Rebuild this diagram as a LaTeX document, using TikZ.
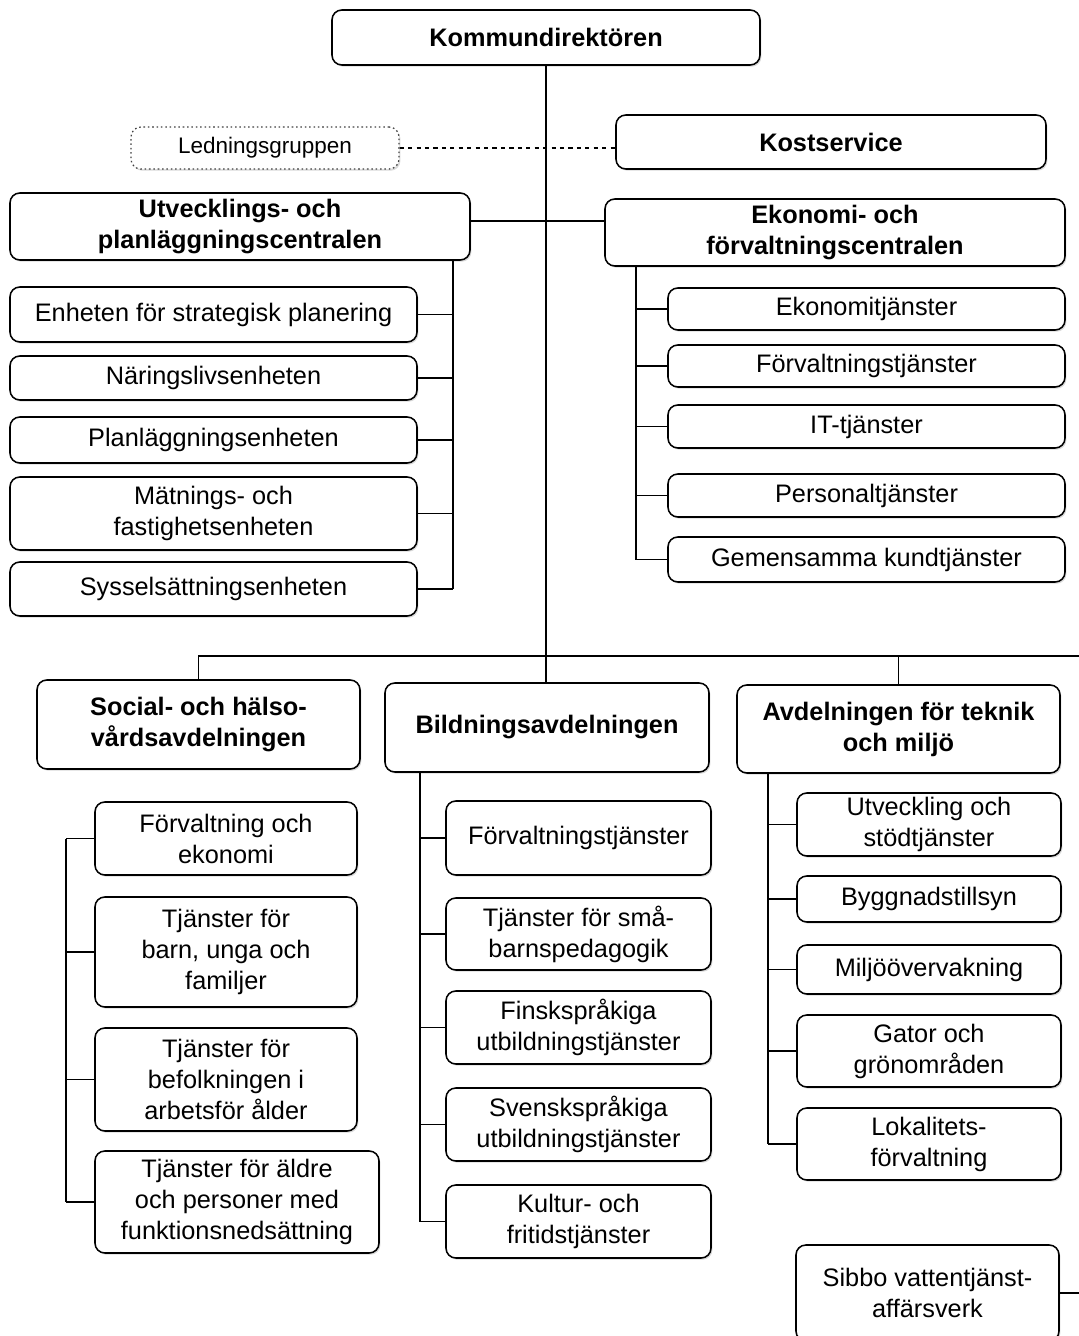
\documentclass[tikz,border=0pt]{standalone}
\usepackage{fontspec}
\setmainfont{Liberation Sans}
\usetikzlibrary{shadows}

\tikzset{
	unit/.style={draw, fill=white, rounded corners=7pt, line width=1.1pt, inner sep=0pt,
		align=center, font=\fontsize{18}{22}\selectfont,
		drop shadow={shadow xshift=1pt, shadow yshift=-1.2pt, opacity=0.3}},
	head/.style={unit, font=\bfseries\fontsize{18}{22}\selectfont},
	link/.style={line width=1.1pt},
}
% box from its corners (in px): style, name, x1, y1, x2, y2, text
\newcommand\orgbox[7]{%
	\node[#1, minimum width={(#5-#3)*0.025cm}, minimum height={(#6-#4)*0.025cm}]
		(#2) at ({(#3+#5)/2},{(#4+#6)/2}) {#7};}

\begin{document}
\begin{tikzpicture}[x=0.025cm, y=-0.025cm]
	\useasboundingbox (0,0) rectangle (1079,1336);
	
	% top level
	\orgbox{head}{kd}{332}{10}{760}{65}{Kommundirektören}
	\orgbox{unit, dotted, draw=black!75, line width=0.9pt, font=\fontsize{16}{19}\selectfont}{led}{131}{127}{399}{169}{Ledningsgruppen}
	\orgbox{head}{kost}{616}{115}{1046}{169}{Kostservice}
	\orgbox{head}{utv}{10}{193}{470}{260}{Utvecklings- och\\planläggningscentralen}
	\orgbox{head}{eko}{605}{199}{1065}{266}{Ekonomi- och\\förvaltningscentralen}
	
	\orgbox{head}{soc}{37}{680}{360}{769}{Social- och hälso-\\vårdsavdelningen}
	\orgbox{head}{bild}{385}{683}{709}{772}{Bildningsavdelningen}
	\orgbox{head}{avd}{737}{685}{1060}{773}{Avdelningen för teknik\\och miljö}
	
	\draw[link] (kd.south) -- (kd.south |- bild.north);
	\draw[link, dashed] (led.east) -- (led.east -| kost.west);
	\coordinate (cross) at (470,221);
	\draw[link] (utv.east |- cross) -- (cross -| eko.west);
	
	\coordinate (bar) at (546,656);
	\coordinate (barend) at (1079,656);
	\draw[link] (soc.north) -- (soc.north |- bar) -- (barend);
	\draw[link] (avd.north) -- (avd.north |- bar);
	
	% buses
	\coordinate (utvbus) at (453,260);
	\coordinate (ekobus) at (636,266);
	\coordinate (socbus) at (66,838);
	\coordinate (bildbus) at (420,772);
	\coordinate (avdbus) at (768,773);
	
	\foreach \n/\ya/\yb/\t in {ut1/287/342/{Enheten för strategisk planering},
		ut2/356/400/Näringslivsenheten, ut3/417/463/Planläggningsenheten,
		ut4/477/550/{Mätnings- och\\fastighetsenheten}, ut5/562/616/Sysselsättningsenheten}
	{
		\orgbox{unit}{\n}{10}{\ya}{417}{\yb}{\t}
		\draw[link] (\n.east) -- (\n.east -| utvbus);
	}
	\draw[link] (utvbus) -- (utvbus |- ut5.east);
	
	\foreach \n/\ya/\yb/\t in {ek1/288/330/Ekonomitjänster, ek2/345/387/Förvaltningstjänster,
		ek3/405/448/IT-tjänster, ek4/474/517/Personaltjänster,
		ek5/537/582/Gemensamma kundtjänster}
	{
		\orgbox{unit}{\n}{668}{\ya}{1065}{\yb}{\t}
		\draw[link] (\n.west) -- (\n.west -| ekobus);
	}
	\draw[link] (ekobus) -- (ekobus |- ek5.west);
	
	\foreach \n/\xb/\ya/\yb/\t in {so1/357/802/875/{Förvaltning och\\ekonomi},
		so2/357/897/1007/{Tjänster för\\barn, unga och\\familjer},
		so3/357/1028/1131/{Tjänster för\\befolkningen i\\arbetsför ålder},
		so4/379/1151/1253/{Tjänster för äldre\\och personer med\\funktionsnedsättning}}
	{
		\orgbox{unit}{\n}{95}{\ya}{\xb}{\yb}{\t}
		\draw[link] (\n.west) -- (\n.west -| socbus);
	}
	\draw[link] (socbus |- so1.west) -- (socbus |- so4.west);
	
	\foreach \n/\ya/\yb/\t in {bi1/801/875/Förvaltningstjänster,
		bi2/898/970/{Tjänster för små-\\barnspedagogik},
		bi3/991/1064/{Finskspråkiga\\utbildningstjänster},
		bi4/1088/1161/{Svenskspråkiga\\utbildningstjänster},
		bi5/1185/1258/{Kultur- och\\fritidstjänster}}
	{
		\orgbox{unit}{\n}{446}{\ya}{711}{\yb}{\t}
		\draw[link] (\n.west) -- (\n.west -| bildbus);
	}
	\draw[link] (bildbus) -- (bildbus |- bi5.west);
	
	\foreach \n/\ya/\yb/\t in {av1/793/856/{Utveckling och\\stödtjänster},
		av2/876/922/Byggnadstillsyn, av3/945/994/Miljöövervakning,
		av4/1015/1087/{Gator och\\grönområden}, av5/1108/1180/{Lokalitets-\\förvaltning}}
	{
		\orgbox{unit}{\n}{797}{\ya}{1061}{\yb}{\t}
		\draw[link] (\n.west) -- (\n.west -| avdbus);
	}
	\draw[link] (avdbus) -- (avdbus |- av5.west);
	
	\orgbox{unit}{sib}{796}{1245}{1059}{1341}{Sibbo vattentjänst-\\affärsverk}
	\coordinate (sibend) at (1079,1293);
	\draw[link] (sib.east) -- (sibend);
\end{tikzpicture}
\end{document}
